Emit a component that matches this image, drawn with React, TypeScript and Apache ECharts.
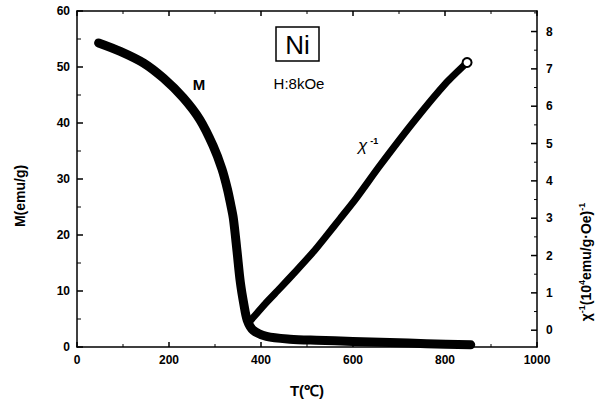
import React, { useEffect, useRef } from "react";
import * as echarts from "echarts";

// Magnetisation of Ni measured in an 8 kOe field
const T_M = [47, 94, 145, 188, 231, 267, 296, 315, 327, 334, 340, 348, 355, 363, 370, 383, 412, 463, 520, 600, 680, 760, 856];
const M_VALUES = [54.3, 52.8, 50.7, 48.0, 44.5, 40.6, 35.9, 31.8, 28.2, 25.5, 22.9, 17.0, 11.6, 7.5, 4.8, 3.0, 1.9, 1.4, 1.2, 1.0, 0.8, 0.6, 0.4];

// Inverse susceptibility above the Curie point
const T_CHI = [378, 410, 441, 478, 514, 543, 572, 606, 658, 731, 803, 848];
const CHI_INV = [0.27, 0.72, 1.12, 1.61, 2.1, 2.54, 2.99, 3.52, 4.4, 5.57, 6.63, 7.17];

// Axis ranges and ticks
const T_RANGE = [0, 1000];
const M_RANGE = [0, 60];
const CHI_RANGE = [-0.45, 8.55];
const T_TICKS = [0, 200, 400, 600, 800, 1000];
const T_MINOR_TICKS = [100, 300, 500, 700, 900];
const M_TICKS = [0, 10, 20, 30, 40, 50, 60];
const M_MINOR_TICKS = [5, 15, 25, 35, 45, 55];
const CHI_TICKS = [0, 1, 2, 3, 4, 5, 6, 7, 8];
const CHI_MINOR_TICKS = [0.5, 1.5, 2.5, 3.5, 4.5, 5.5, 6.5, 7.5, 8.5];

const FONT = "Liberation Sans";
const INK = "#000";

type Side = "bottom" | "top" | "left" | "right";

// Inward tick marks drawn through the axes' own scales
function tickSeries(side: Side, values: number[], len: number, width: number, yAxisIndex: number) {
  const yRange = yAxisIndex === 0 ? M_RANGE : CHI_RANGE;
  const data = values.map((v) => {
    if (side === "bottom") return [v, yRange[0]];
    if (side === "top") return [v, yRange[1]];
    if (side === "left") return [T_RANGE[0], v];
    return [T_RANGE[1], v];
  });
  return {
    type: "custom",
    xAxisIndex: 0,
    yAxisIndex,
    silent: true,
    clip: false,
    z: 5,
    data,
    renderItem: (_params: any, api: any) => {
      const p = api.coord([api.value(0), api.value(1)]);
      const dx = side === "left" ? len : side === "right" ? -len : 0;
      const dy = side === "bottom" ? -len : side === "top" ? len : 0;
      return {
        type: "line",
        shape: { x1: p[0], y1: p[1], x2: p[0] + dx, y2: p[1] + dy },
        style: { stroke: INK, lineWidth: width },
      };
    },
  };
}

export default function App() {
  const ref = useRef<HTMLDivElement>(null);

  useEffect(() => {
    if (!ref.current) return;
    const chart = echarts.init(ref.current, null, { renderer: "svg" });

    const labelStyle = { color: INK, fontFamily: FONT, fontSize: 12, fontWeight: "bold" as const };
    const lineStyle = { color: INK, width: 1.5 };

    const mData = T_M.map((t, i) => [t, M_VALUES[i]]);
    const chiData = T_CHI.map((t, i) =>
      i === T_CHI.length - 1
        ? {
            value: [t, CHI_INV[i]],
            symbol: "circle",
            symbolSize: 9,
            itemStyle: { color: "#fff", borderColor: INK, borderWidth: 2 },
          }
        : { value: [t, CHI_INV[i]], symbol: "none" }
    );

    chart.setOption({
      animation: false,
      backgroundColor: "#fff",
      grid: { left: 77, right: 63, top: 11, bottom: 54 },
      xAxis: [
        {
          type: "value",
          min: T_RANGE[0],
          max: T_RANGE[1],
          interval: 200,
          name: "T(℃)",
          nameLocation: "middle",
          nameGap: 36,
          nameTextStyle: { color: INK, fontFamily: FONT, fontSize: 15, fontWeight: "bold" },
          axisLine: { show: true, onZero: false, lineStyle },
          axisTick: { show: false },
          axisLabel: { ...labelStyle, margin: 7, formatter: (v: number) => String(v) },
          splitLine: { show: false },
        },
        {
          type: "value",
          position: "top",
          min: T_RANGE[0],
          max: T_RANGE[1],
          axisLine: { show: true, onZero: false, lineStyle },
          axisTick: { show: false },
          axisLabel: { show: false },
          splitLine: { show: false },
        },
      ],
      yAxis: [
        {
          type: "value",
          min: M_RANGE[0],
          max: M_RANGE[1],
          interval: 10,
          axisLine: { show: true, onZero: false, lineStyle },
          axisTick: { show: false },
          axisLabel: { ...labelStyle, margin: 7 },
          splitLine: { show: false },
        },
        {
          type: "value",
          position: "right",
          min: CHI_RANGE[0],
          max: CHI_RANGE[1],
          axisLine: { show: true, onZero: false, lineStyle },
          axisTick: { show: false },
          axisLabel: { ...labelStyle, margin: 9, customValues: CHI_TICKS },
          splitLine: { show: false },
        },
      ],
      series: [
        {
          type: "line",
          name: "M",
          data: mData,
          xAxisIndex: 0,
          yAxisIndex: 0,
          smooth: 0.3,
          symbol: "none",
          clip: false,
          lineStyle: { color: INK, width: 9, cap: "round", join: "round" },
        },
        {
          type: "line",
          name: "χ⁻¹",
          data: chiData,
          xAxisIndex: 0,
          yAxisIndex: 1,
          smooth: 0.2,
          clip: false,
          lineStyle: { color: INK, width: 7, cap: "round", join: "round" },
        },
        tickSeries("bottom", T_TICKS, 5, 1.5, 0),
        tickSeries("bottom", T_MINOR_TICKS, 3, 1, 0),
        tickSeries("top", T_TICKS, 5, 1.5, 0),
        tickSeries("top", T_MINOR_TICKS, 3, 1, 0),
        tickSeries("left", M_TICKS, 6, 1.5, 0),
        tickSeries("left", M_MINOR_TICKS, 4, 1, 0),
        tickSeries("right", CHI_TICKS, 6, 1.5, 1),
        tickSeries("right", CHI_MINOR_TICKS, 3, 1, 1),
      ],
      graphic: [
        // axis titles
        {
          type: "text",
          x: 20,
          y: 196,
          rotation: Math.PI / 2,
          style: {
            text: "M(emu/g)",
            fill: INK,
            font: `bold 14px "${FONT}"`,
            align: "center",
            verticalAlign: "middle",
          },
        },
        {
          type: "text",
          x: 586,
          y: 262,
          rotation: Math.PI / 2,
          style: {
            text: "{t|χ}{s|-1}{t|(10}{s|4}{t|emu/g·Oe)}{s|-1}",
            align: "center",
            verticalAlign: "middle",
            rich: {
              t: { fontFamily: FONT, fontSize: 14, fontWeight: "bold", fill: INK, lineHeight: 18 },
              s: { fontFamily: FONT, fontSize: 9, fontWeight: "bold", fill: INK, verticalAlign: "top" },
            },
          },
        },
        // sample and field
        {
          type: "rect",
          shape: { x: 276, y: 27, width: 43, height: 34 },
          style: { fill: "#fff", stroke: INK, lineWidth: 1.5 },
        },
        {
          type: "text",
          x: 297.5,
          y: 44.5,
          style: { text: "Ni", fill: INK, font: `26px "${FONT}"`, align: "center", verticalAlign: "middle" },
        },
        {
          type: "text",
          x: 299,
          y: 83,
          style: { text: "H:8kOe", fill: INK, font: `15px "${FONT}"`, align: "center", verticalAlign: "middle" },
        },
        // curve labels
        {
          type: "text",
          x: 199,
          y: 84,
          style: { text: "M", fill: INK, font: `bold 15px "${FONT}"`, align: "center", verticalAlign: "middle" },
        },
        {
          type: "text",
          x: 358,
          y: 136,
          style: {
            text: "{c|χ}{s|-1}",
            verticalAlign: "top",
            rich: {
              c: { fontFamily: FONT, fontSize: 17, fontStyle: "italic", fill: INK, lineHeight: 18 },
              s: { fontFamily: FONT, fontSize: 9, fontWeight: "bold", fill: INK, verticalAlign: "top", padding: [0, 0, 0, 3] },
            },
          },
        },
      ],
    });

    return () => chart.dispose();
  }, []);

  return (
    <div
      ref={ref}
      style={{ position: "fixed", left: 0, top: 0, width: 600, height: 403, background: "#fff" }}
    />
  );
}
